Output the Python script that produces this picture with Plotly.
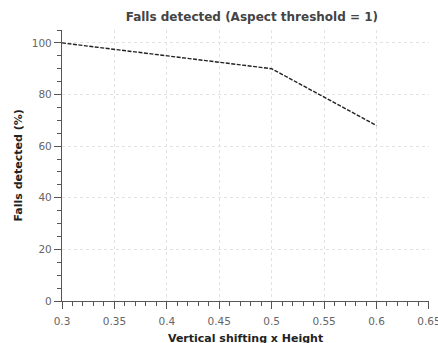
import plotly.graph_objects as go

x_vals = [0.3, 0.5, 0.6]
y_vals = [100, 90, 68]

fig = go.Figure()
fig.add_trace(go.Scatter(x=x_vals, y=y_vals, mode="lines",
                         line=dict(color="#222222", width=1.4, dash="4px,1.5px")))

axis_common = dict(showline=True, linecolor="#555555", linewidth=1.2,
                   ticks="outside", tickcolor="#555555", ticklen=7, tickwidth=1.2,
                   tickfont=dict(family="DejaVu Sans", size=10.5, color="#666666"),
                   showgrid=True, gridcolor="#e2e2e2", griddash="dot", gridwidth=1,
                   zeroline=False, mirror=False, ticklabeloverflow="allow")

x_minor = [round(0.3 + 0.01 * i, 2) for i in range(36)]
y_minor = [5 * i for i in range(22)]

fig.update_layout(
    width=438, height=343,
    margin=dict(l=62, r=9, t=30, b=42, autoexpand=False),
    plot_bgcolor="white", paper_bgcolor="white",
    showlegend=False,
    title=dict(text="<b>Falls detected (Aspect threshold = 1)</b>",
               x=0.575, xanchor="center", y=0.95, yanchor="middle",
               font=dict(family="DejaVu Sans", size=12, color="#444444")),
    xaxis=dict(range=[0.3, 0.6501], tick0=0.3, dtick=0.05, tickformat="~g",
               ticklabelstandoff=3,
               minor=dict(tickmode="array", tickvals=x_minor, ticks="outside", ticklen=4,
                          tickcolor="#555555", tickwidth=1.2, showgrid=False),
               **axis_common),
    yaxis=dict(range=[0, 105], tick0=0, dtick=20,
               minor=dict(tickmode="array", tickvals=y_minor, ticks="outside", ticklen=4,
                          tickcolor="#555555", tickwidth=1.2, showgrid=False),
               **axis_common),
    annotations=[
        dict(text="<b>Vertical shifting x Height</b>", xref="paper", yref="paper",
             x=0.5, y=0, xanchor="center", yanchor="middle", yshift=-37.5, showarrow=False,
             font=dict(family="DejaVu Sans", size=11, color="#222222")),
        dict(text="<b>Falls detected (%)</b>", xref="paper", yref="paper",
             x=0, y=0.5, xanchor="center", yanchor="middle", xshift=-44, textangle=-90,
             showarrow=False, font=dict(family="DejaVu Sans", size=11, color="#222222")),
    ],
)

fig.write_html("out.html", config={"displayModeBar": False},
               post_script="document.body.style.margin='0';")
